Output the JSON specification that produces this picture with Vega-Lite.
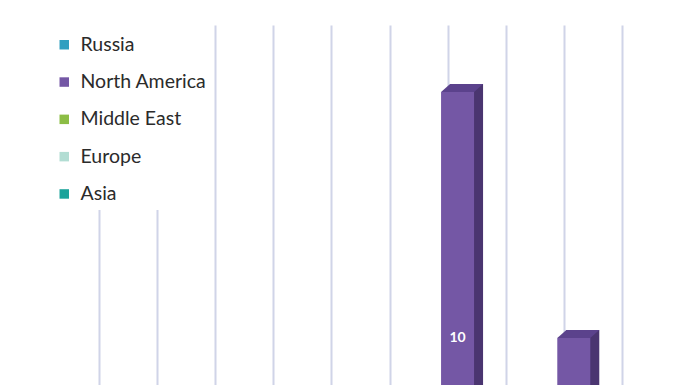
{
  "$schema": "https://vega.github.io/schema/vega-lite/v6.json",
  "width": 696,
  "height": 360,
  "padding": {"left": 0, "top": 25, "right": 0, "bottom": 0},
  "autosize": {"type": "none"},
  "background": "white",
  "config": {"view": {"stroke": null}},
  "data": {"values": [
    {"slot": 6.17, "region": "North America", "value": 10},
    {"slot": 8.17, "region": "North America", "value": 5}
  ]},
  "resolve": {"scale": {"y": "independent"}},
  "layer": [
    {
      "mark": {"type": "bar", "width": 33, "xOffset": 9, "yOffset": -8, "y2Offset": -8, "color": "#4a3570", "clip": true},
      "encoding": {
        "x": {"field": "slot", "type": "quantitative",
          "scale": {"domain": [-1.7036, 10.273], "nice": false, "zero": false, "padding": 0},
          "axis": {"values": [0, 1, 2, 3, 4, 5, 6, 7, 8, 9], "grid": true, "gridColor": "#d0d4e8", "gridWidth": 2, "labels": false, "ticks": false, "domain": false, "title": null}},
        "y": {"field": "value", "type": "quantitative", "scale": {"domain": [4.045, 11.362], "nice": false, "zero": false}, "axis": null},
        "y2": {"datum": 0}
      }
    },
    {
      "mark": {"type": "point", "shape": "M-1,0.19L0.571,0.19L1,-0.19L-0.571,-0.19Z", "size": 1764, "filled": true, "color": "#5b428c", "opacity": 1, "strokeWidth": 0, "xOffset": 4.5, "yOffset": -4, "clip": true},
      "encoding": {
        "x": {"field": "slot", "type": "quantitative"},
        "y": {"field": "value", "type": "quantitative", "scale": {"domain": [4.045, 11.362], "nice": false, "zero": false}, "axis": null}
      }
    },
    {
      "mark": {"type": "bar", "width": 33, "clip": true},
      "encoding": {
        "x": {"field": "slot", "type": "quantitative"},
        "y": {"field": "value", "type": "quantitative", "scale": {"domain": [4.045, 11.362], "nice": false, "zero": false}, "axis": null},
        "y2": {"datum": 0},
        "color": {"field": "region", "type": "nominal",
          "scale": {"domain": ["Russia", "North America", "Middle East", "Europe", "Asia"], "range": ["#2f9fc0", "#7457a5", "#8cbd45", "#b2ddd3", "#1ba39b"]},
          "legend": {"orient": "none", "legendX": 48.5, "legendY": 0, "fillColor": "white", "padding": 6, "symbolType": "square", "symbolSize": 90, "symbolStrokeWidth": 0, "symbolOpacity": 1, "labelFont": "Lato", "labelFontSize": 19.5, "labelColor": "#2b2b2b", "rowPadding": 16.3, "labelOffset": 6.5, "title": " ", "titleFontSize": 4, "titlePadding": 0}}
      }
    },
    {
      "transform": [{"filter": "datum.value >= 10"}],
      "mark": {"type": "text", "color": "white", "fontWeight": "bold", "fontSize": 14, "font": "Lato", "clip": true},
      "encoding": {
        "x": {"field": "slot", "type": "quantitative"},
        "y": {"field": "value", "type": "quantitative", "scale": {"domain": [8.09, 22.724], "nice": false, "zero": false}, "axis": null},
        "text": {"field": "value", "type": "quantitative"}
      }
    }
  ]
}
